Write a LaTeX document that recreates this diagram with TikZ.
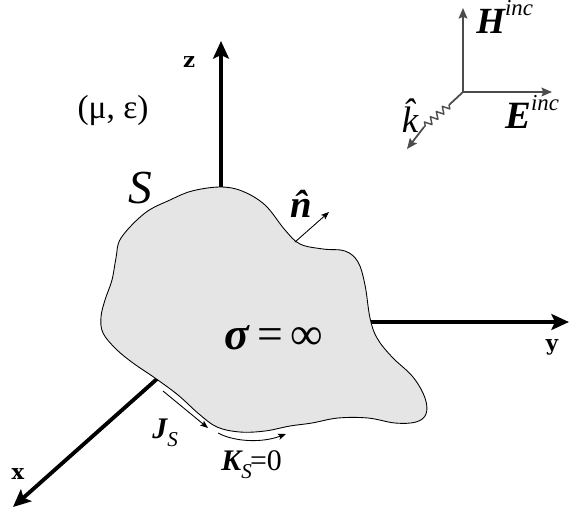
\documentclass[tikz,border=0pt]{standalone}
\usepackage{fontspec}
\newfontfamily\tnr{Liberation Serif}
\newfontfamily\axf{DejaVu Serif}
\usetikzlibrary{arrows.meta,decorations.pathmorphing}
\begin{document}
\begin{tikzpicture}[x=0.02cm,y=-0.02cm,line join=round,>={Stealth[length=10pt,width=9pt,inset=2pt]},
	axis/.style={line width=2.2pt,->},
	field/.style={line width=1pt,black!70,-{Stealth[length=6pt,width=5pt,inset=1pt]}},
	surf/.style={line width=0.5pt,-{Stealth[length=4.5pt,width=3.5pt,inset=1pt]}},
	axlbl/.style={inner sep=0pt,font=\axf\fontsize{12}{12}\selectfont\bfseries},
	lbl/.style={inner sep=0pt,font=\tnr}]
	\useasboundingbox (0,0) rectangle (570,511);
	% axes
	\coordinate (O) at (221,322);
	\coordinate (Xe) at (13,507);
	\coordinate (Ye) at (569,322);
	\coordinate (Ze) at (221,41);
	\draw[axis] (O) -- (Xe);
	\draw[axis] (O) -- (Ye);
	\draw[axis] (O) -- (Ze);
	\node[axlbl] (xl) at (18,474) {x};
	\node[axlbl] (yl) at (552,347) {y};
	\node[axlbl] (zl) at (189,62) {z};
	% body
	\filldraw[fill=black!10,line width=0.5pt] plot[smooth cycle,tension=0.6] coordinates {
		(220,187) (242,191) (265,205) (285,230) (300,244) (323,249) (345,251) (358,262)
		(365,285) (370,318) (377,338) (392,357) (413,377) (425,398) (426,414) (416,422)
		(395,423) (368,418) (338,418) (312,423) (290,426) (265,431) (240,432) (217,427)
		(199,414) (178,395) (155,378) (133,363) (116,349) (103,333) (101,317) (105,300)
		(112,280) (116,258) (121,238) (145,213) (170,200) (192,191)};
	\node[lbl,font=\tnr\fontsize{26}{26}\selectfont] (sig) at (274,338) {{\bfseries\itshape σ}\,=\,∞};
	\node[lbl,font=\tnr\fontsize{27}{27}\selectfont\itshape] (S) at (140,188) {S};
	\node[lbl,font=\tnr\fontsize{19}{19}\selectfont] (mat) at (113,110) {(μ, ε)};
	% normal
	\coordinate (n0) at (295,242);
	\coordinate (n1) at (329,212);
	\draw[surf] (n0) -- (n1);
	\node[lbl,anchor=base,font=\tnr\fontsize{22}{22}\selectfont\bfseries\itshape] (nl) at (301,217) {n̂};
	% surface currents
	\coordinate (J0) at (163,391);
	\coordinate (J1) at (208,428);
	\draw[surf] (J0) -- (J1);
	\node[lbl,anchor=base west,font=\tnr\fontsize{17}{17}\selectfont] (Jl) at (152,438) {{\bfseries\itshape J}\raisebox{-0.3em}{\fontsize{12}{12}\selectfont\itshape S}};
	\coordinate (K0) at (218,433);
	\coordinate (K1) at (286,434);
	\draw[surf] (K0) .. controls (235,442) and (262,443) .. (K1);
	\node[lbl,anchor=base west,font=\tnr\fontsize{17}{17}\selectfont] (Kl) at (221,470) {{\bfseries\itshape K}\raisebox{-0.3em}{\fontsize{12}{12}\selectfont\itshape S}\kern-1pt=0};
	% incident wave
	\coordinate (F) at (463,92);
	\coordinate (Ht) at (463,8);
	\coordinate (Et) at (552,92);
	\coordinate (k1) at (449,105);
	\coordinate (k2) at (424,127);
	\coordinate (kt) at (407,149);
	\draw[field] (F) -- (Ht);
	\draw[field] (F) -- (Et);
	\draw[line width=1pt,black!70] (F) -- (k1);
	\draw[line width=0.8pt,black!70,decorate,decoration={zigzag,segment length=4.5pt,amplitude=2pt}] (k1) -- (k2);
	\draw[field] (k2) -- (kt);
	\node[lbl,anchor=base west,font=\tnr\fontsize{21}{21}\selectfont] (Hl) at (476,33) {{\bfseries\itshape H}\raisebox{10pt}{\fontsize{13}{13}\selectfont\itshape inc}};
	\node[lbl,anchor=base west,font=\tnr\fontsize{22}{22}\selectfont] (El) at (505,128) {{\bfseries\itshape E}\raisebox{10pt}{\fontsize{13}{13}\selectfont\itshape inc}};
	\node[lbl,anchor=base,font=\tnr\fontsize{21}{21}\selectfont\itshape] (kl) at (410,132) {k̂};
\end{tikzpicture}
\end{document}
